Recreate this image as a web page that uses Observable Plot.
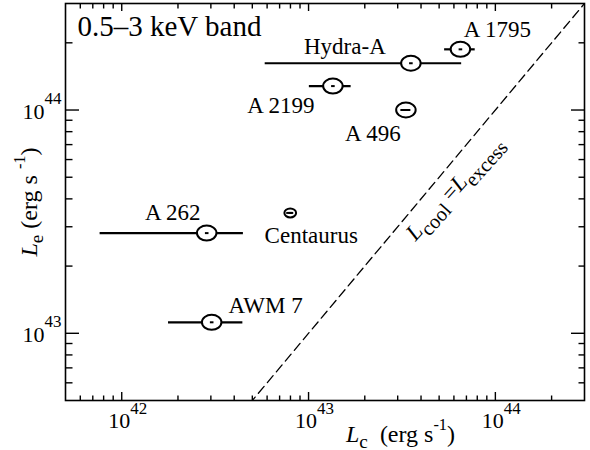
<!DOCTYPE html>
<html><head><meta charset="utf-8">
<script src="https://cdn.jsdelivr.net/npm/d3@7"></script>
<script src="https://cdn.jsdelivr.net/npm/@observablehq/plot@0.6"></script>
<style>
html,body{margin:0;background:#fff;font-family:"Times New Roman",serif}
svg, svg g, svg text, svg tspan{font-family:"Times New Roman",serif !important}
</style>
</head><body><div id="chart"></div>
<script>
// ---- data ----
const names  = ["A 1795", "Hydra-A", "A 2199", "A 496", "Centaurus", "A 262", "AWM 7"];
const Lc     = [6.5e43, 3.53e43, 1.35e43, 3.32e43, 7.98e42, 2.85e42, 3.03e42];
const LcLow  = [5.35e43, 5.86e42, 1.01e43, 3.12e43, 7.64e42, 7.66e41, 1.78e42];
const LcHigh = [7.8e43, 6.6e43, 1.69e43, 3.53e43, 8.33e42, 4.48e42, 4.45e42];
const Le     = [1.87e44, 1.62e44, 1.28e44, 1.0e44, 3.46e43, 2.81e43, 1.12e43];

// ---- ticks / labels ----
const xMajor = [1e42, 1e43, 1e44];
const yMajor = [1e43, 1e44];
const xTickLabels = ["10^{42}", "10^{43}", "10^{44}"];
const yTickLabels = ["10^{43}", "10^{44}"];
const xLabel = "*L*_{c}  (erg s^{-1})";
const yLabel = "*L*_{e} (erg s ^{-1})";
const panelTitle = "0.5–3 keV band";
const lineLabel = "*L*_{cool} =*L*_{excess}";
const equality = [1e41, 1e45];          // L_cool = L_excess
const lineLabelAt = 5.07e43;

// ---- styles (not data) ----
const markerR = [7.5, 7.5, 7.5, 7.5, 4.5, 7.5, 7.5];
const labelOffset = [[37, -12], [-66, -9], [-52, 27], [-33, 31], [21, 30], [-34, -13], [54, -9]];

const rows = names.map((n, i) => ({name: n, x: Lc[i], lo: LcLow[i], hi: LcHigh[i], y: Le[i], r: markerR[i]}));

function minorTicks(lo, hi) {
  const out = [];
  for (let e = 40; e <= 45; e++) for (let m = 2; m <= 9; m++) {
    const v = m * Math.pow(10, e);
    if (v > lo * 1.001 && v < hi * 0.999) out.push(v);
  }
  return out;
}
const xDomain = [5e41, 3e44], yDomain = [5e42, 3e44];
const xMinor = minorTicks(...xDomain), yMinor = minorTicks(...yDomain);

const ellipse = {draw(ctx, size) {
  const r = Math.sqrt(size / Math.PI), a = r * 1.3, b = r, k = 0.5523;
  ctx.moveTo(a, 0);
  ctx.bezierCurveTo(a, k * b, k * a, b, 0, b);
  ctx.bezierCurveTo(-k * a, b, -a, k * b, -a, 0);
  ctx.bezierCurveTo(-a, -k * b, -k * a, -b, 0, -b);
  ctx.bezierCurveTo(k * a, -b, a, -k * b, a, 0);
  ctx.closePath();
}};
const hdash = {draw(ctx, size) {
  const w = Math.sqrt(size / Math.PI);
  ctx.moveTo(-w, 0); ctx.lineTo(w, 0);
}};

const ink = "#000";
const SERIF = "Times New Roman, serif";
const tk = {stroke: ink, strokeWidth: 1.4, fill: "none"};
const tx = {fill: ink, fontFamily: SERIF};

const plot = Plot.plot({
  width: 590, height: 450,
  marginLeft: 65, marginRight: 6, marginTop: 3, marginBottom: 50,
  x: {type: "log", domain: xDomain, axis: null},
  y: {type: "log", domain: yDomain, axis: null},
  r: {type: "identity"},
  style: "font-family: 'Times New Roman', serif; background: #fff;",
  marks: [
    Plot.line(equality, {x: d => d, y: d => d, stroke: ink, strokeWidth: 1.3, strokeDasharray: "9,5", clip: true}),
    Plot.ruleY(rows, {y: "y", x1: "lo", x2: "hi", stroke: ink, strokeWidth: 2.2}),
    Plot.dot(rows, {x: "x", y: "y", r: "r", symbol: ellipse, fill: "#fff", stroke: ink, strokeWidth: 2}),
    Plot.ruleY(rows.filter(d => d.hi / d.lo < 1.2), {y: "y", x1: "lo", x2: "hi", stroke: ink, strokeWidth: 2}),
    Plot.dot(rows, {x: "x", y: "y", r: 1.8, symbol: hdash, fill: "none", stroke: ink, strokeWidth: 2}),
    // axes: inward ticks on all four sides
    Plot.axisX(xMajor, {anchor: "bottom", tickSize: -8, ...tk}),
    Plot.axisX(xMinor, {anchor: "bottom", tickSize: -4.5, ...tk}),
    Plot.axisX(xMajor, {anchor: "top", tickSize: -7, ...tk}),
    Plot.axisX(xMinor, {anchor: "top", tickSize: -4.5, ...tk}),
    Plot.axisY(yMajor, {anchor: "left", tickSize: -14, ...tk}),
    Plot.axisY(yMinor, {anchor: "left", tickSize: -7.5, ...tk}),
    Plot.axisY(yMajor, {anchor: "right", tickSize: -14, ...tk}),
    Plot.axisY(yMinor, {anchor: "right", tickSize: -6.5, ...tk}),
    Plot.frame({stroke: ink, strokeWidth: 1.6}),
    // tick labels
    Plot.text(xTickLabels, {x: (d, i) => xMajor[i], text: d => d, frameAnchor: "bottom", dx: -13.5, dy: 27.7,
      textAnchor: "start", lineAnchor: "bottom", fontSize: 22, ...tx}),
    Plot.text(yTickLabels, {y: (d, i) => yMajor[i], text: d => d, frameAnchor: "left", dx: -4, dy: 8.5,
      textAnchor: "end", lineAnchor: "bottom", fontSize: 22, ...tx}),
    // axis labels
    Plot.text([xLabel], {text: d => d, frameAnchor: "bottom", dx: 75.5, dy: 41, textAnchor: "middle", lineAnchor: "bottom", fontSize: 24, ...tx}),
    Plot.text([yLabel], {text: d => d, frameAnchor: "left", dx: -29, rotate: -90, textAnchor: "middle", lineAnchor: "bottom", fontSize: 24, ...tx}),
    // panel title
    Plot.text([panelTitle], {text: d => d, frameAnchor: "top-left", dx: 12, dy: 32, textAnchor: "start", lineAnchor: "bottom", fontSize: 29, ...tx}),
    // equality line label
    Plot.text([lineLabel], {x: () => lineLabelAt, y: () => lineLabelAt, text: d => d, dx: 14, dy: 12, rotate: -48, textAnchor: "middle", fontSize: 23, ...tx}),
    // point labels
    ...rows.map((r, i) => Plot.text([r], {x: "x", y: "y", text: "name", dx: labelOffset[i][0], dy: labelOffset[i][1],
      textAnchor: "middle", lineAnchor: "bottom", fontSize: 23, ...tx}))
  ]
});
document.getElementById("chart").append(plot);
plot.setAttribute("font-family", SERIF);

// rich text: *italic*, ^{sup}, _{sub}; every text is rebuilt from tspans
const svgNS = "http://www.w3.org/2000/svg";
function richify(el) {
  const src = el.textContent;
  let p;
  if (src.startsWith("10^")) p = {supS: 0.77, supY: 0.66, subS: 0.8, subY: 0.25};
  else if (src.includes("cool")) p = {supS: 0.7, supY: 0.45, subS: 0.88, subY: 0.3};
  else p = {supS: 0.68, supY: 0.48, subS: 0.8, subY: 0.25};
  const fs = parseFloat(getComputedStyle(el).fontSize);
  const segs = [];
  let i = 0, buf = "", italic = false;
  const flush = () => { if (buf) segs.push({t: buf, italic, mode: 0}); buf = ""; };
  while (i < src.length) {
    const c = src[i];
    if ((c === "^" || c === "_") && src[i + 1] === "{") {
      flush();
      const j = src.indexOf("}", i);
      segs.push({t: src.slice(i + 2, j), italic: false, mode: c === "^" ? 1 : -1});
      i = j + 1;
    } else if (c === "*") { flush(); italic = !italic; i++; }
    else { buf += c; i++; }
  }
  flush();
  el.textContent = "";
  el.setAttribute("font-family", SERIF);
  el.setAttribute("font-size", fs);
  let cur = 0;
  for (const s of segs) {
    const ts = document.createElementNS(svgNS, "tspan");
    ts.textContent = s.t;
    ts.setAttribute("font-family", SERIF);
    ts.setAttribute("font-style", s.italic ? "italic" : "normal");
    let size = fs, target = 0;
    if (s.mode === 1) { size = fs * p.supS; target = -fs * p.supY; }
    if (s.mode === -1) { size = fs * p.subS; target = fs * p.subY; }
    ts.setAttribute("font-size", size);
    if (target !== cur) { ts.setAttribute("dy", target - cur); cur = target; }
    el.appendChild(ts);
  }
}
plot.querySelectorAll("text").forEach(richify);
</script>
</body></html>
